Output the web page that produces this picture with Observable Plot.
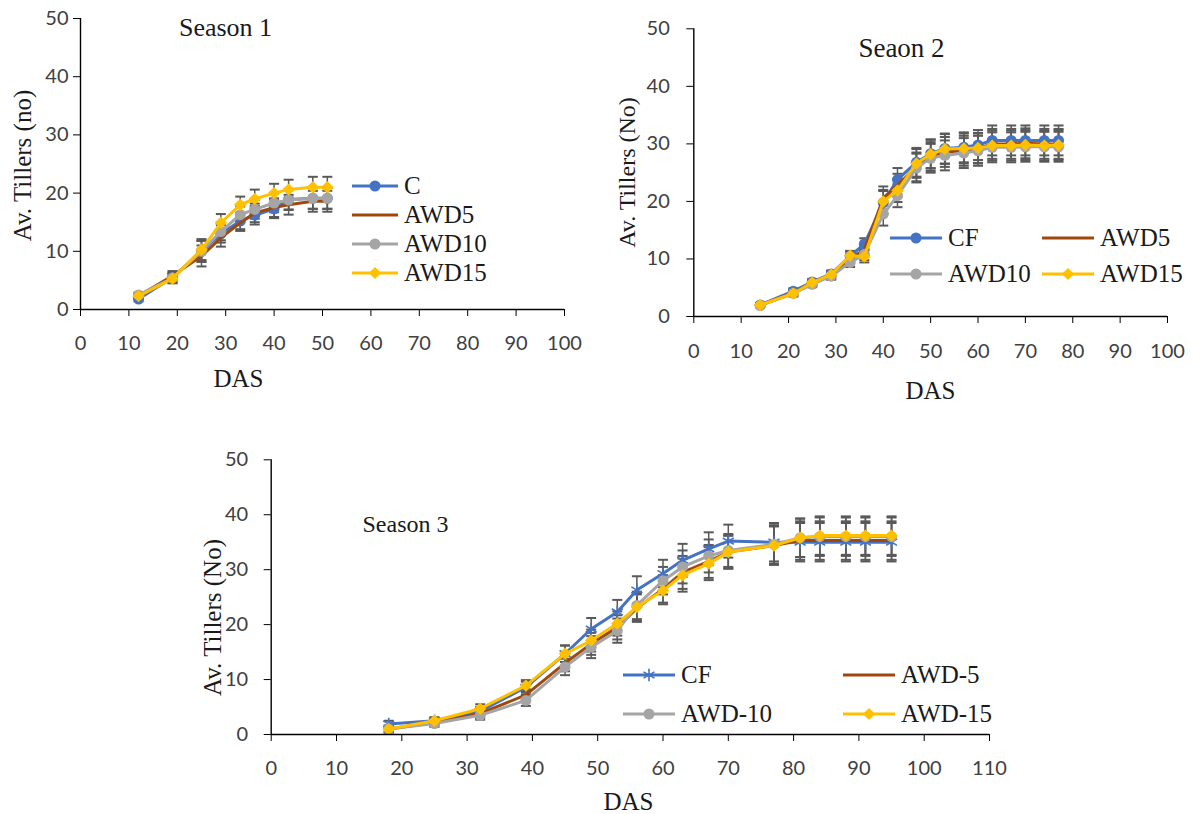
<!DOCTYPE html>
<html>
<head>
<meta charset="utf-8">
<script src="https://cdn.jsdelivr.net/npm/d3@7"></script>
<script src="https://cdn.jsdelivr.net/npm/@observablehq/plot@0.6"></script>
<style>
  body { margin: 0; background: #fff; }
  #fig { position: relative; width: 1193px; height: 814px; overflow: hidden; background: #fff; }
  .panel { position: absolute; }
  .item { position: absolute; display: flex; align-items: center; white-space: nowrap;
          font-family: "Liberation Serif", serif; font-size: 25px; color: #1a1a1a; height: 28px; }
  .item span { margin-left: 6px; }
</style>
</head>
<body>
<div id="fig"></div>
<script>
// ---- Season 1 ----
const s1Days   = [12, 19, 25, 29, 33, 36, 40, 43, 48, 51];
const s1C      = [1.8, 5.5, 10.0, 13.0, 15.2, 16.2, 17.3, 18.9, 19.1, 19.1];
const s1AWD5   = [2.3, 5.8, 9.2, 12.3, 14.9, 16.6, 17.5, 18.0, 18.6, 18.6];
const s1AWD10  = [2.5, 5.4, 10.0, 13.4, 16.3, 17.2, 18.3, 18.8, 19.1, 19.1];
const s1AWD15  = [2.3, 5.3, 10.3, 14.9, 18.0, 19.0, 20.0, 20.6, 21.0, 21.0];
const s1Err    = [0.4, 0.8, 1.8, 1.5, 1.4, 1.6, 1.6, 1.7, 1.8, 1.8];
const s1Names  = ["C", "AWD5", "AWD10", "AWD15"];

// ---- Season 2 ----
const s2Days   = [14, 21, 25, 29, 33, 36, 40, 43, 47, 50, 53, 57, 60, 63, 67, 70, 74, 77];
const s2CF     = [2.0, 4.4, 6.0, 7.4, 10.5, 12.6, 19.8, 23.8, 26.8, 28.3, 29.2, 29.4, 29.8, 30.6, 30.6, 30.6, 30.6, 30.6];
const s2AWD5   = [2.0, 4.1, 5.8, 7.1, 10.1, 11.6, 20.6, 22.8, 26.0, 27.8, 28.6, 28.8, 29.2, 30.0, 30.0, 30.1, 30.0, 30.0];
const s2AWD10  = [1.9, 4.0, 5.6, 7.0, 9.4, 10.8, 17.8, 21.0, 25.8, 27.5, 28.0, 28.4, 28.8, 29.4, 29.4, 29.5, 29.5, 29.5];
const s2AWD15  = [2.0, 4.0, 5.9, 7.3, 10.6, 10.4, 20.0, 21.9, 26.6, 28.2, 29.1, 29.2, 29.3, 29.7, 29.7, 29.8, 29.7, 29.8];
const s2Err    = [0.3, 0.5, 0.5, 0.6, 0.8, 1.0, 2.0, 2.0, 2.5, 2.5, 2.6, 2.6, 2.6, 2.6, 2.6, 2.6, 2.6, 2.6];
const s2Names  = ["CF", "AWD5", "AWD10", "AWD15"];

// ---- Season 3 ----
const s3Days   = [18, 25, 32, 39, 45, 49, 53, 56, 60, 63, 67, 70, 77, 81, 84, 88, 91, 95];
const s3CF     = [1.9, 2.5, 4.2, 8.6, 14.7, 19.2, 22.3, 26.3, 29.3, 31.7, 33.8, 35.2, 35.0, 35.0, 35.0, 35.0, 35.0, 35.0];
const s3AWD5   = [1.0, 2.2, 3.8, 7.2, 13.0, 16.5, 19.5, 23.0, 26.5, 29.5, 31.5, 33.2, 34.4, 35.3, 35.3, 35.3, 35.3, 35.3];
const s3AWD10  = [1.0, 2.0, 3.5, 6.2, 12.3, 15.9, 18.9, 23.5, 28.0, 30.5, 32.5, 33.5, 34.6, 35.8, 36.0, 36.0, 36.0, 36.0];
const s3AWD15  = [1.0, 2.5, 4.7, 8.9, 14.7, 17.1, 20.2, 23.2, 26.2, 29.0, 31.1, 33.2, 34.4, 35.8, 36.2, 36.2, 36.2, 36.2];
const s3Err    = [0.6, 0.6, 0.8, 1.0, 1.5, 2.0, 2.2, 2.5, 2.5, 3.0, 3.0, 3.0, 3.5, 3.5, 3.5, 3.5, 3.5, 3.5];
const s3Names  = ["CF", "AWD-5", "AWD-10", "AWD-15"];

// series styling (same order in every season)
const seriesColors = ["#4472C4", "#9E480E", "#A5A5A5", "#FFC000"];
const errColor = "#595959";
const tickColor = "#404040";
const tickFont = "Lato, 'Liberation Sans', sans-serif";
const serifFont = "'Liberation Serif', serif";

// horizontal cap drawn at a fixed pixel width
const capSymbol = { draw(ctx) { ctx.moveTo(-5, 0); ctx.lineTo(5, 0); } };

const fig = document.getElementById("fig");

function drawPanel(cfg) {
  const rows = cfg.names.flatMap((name, i) =>
    cfg.days.map((d, j) => ({ day: d, value: cfg.values[i][j], err: cfg.err[j], key: name })));
  const m = cfg.margin;
  const marks = [
    // error bars
    Plot.ruleX(rows, { x: "day", y1: d => d.value - d.err, y2: d => d.value + d.err, stroke: errColor, strokeWidth: 1.5 }),
    Plot.dot(rows, { x: "day", y: d => d.value + d.err, symbol: capSymbol, stroke: errColor, strokeWidth: 2, r: 4 }),
    Plot.dot(rows, { x: "day", y: d => d.value - d.err, symbol: capSymbol, stroke: errColor, strokeWidth: 2, r: 4 })
  ];
  cfg.names.forEach((name, i) => {
    const sub = rows.filter(d => d.key === name);
    marks.push(Plot.line(sub, { x: "day", y: "value", stroke: seriesColors[i], strokeWidth: 3 }));
    const sym = cfg.symbols[i];
    if (sym === "asterisk") {
      marks.push(Plot.dot(sub, { x: "day", y: "value", symbol: "asterisk", stroke: seriesColors[i], strokeWidth: 1.6, r: 6 }));
    } else if (sym) {
      marks.push(Plot.dot(sub, { x: "day", y: "value", symbol: sym, fill: seriesColors[i], stroke: "none", r: sym === "circle" ? 5.5 : 5.6 }));
    }
  });
  const label = (text, at, size, rotate = 0) =>
    Plot.text([text], { frameAnchor: "top-left", textAnchor: "middle", lineAnchor: "middle",
                        dx: at[0] - m.l, dy: at[1] - m.t, rotate,
                        fontFamily: serifFont, fontSize: size, fill: "#1a1a1a" });
  // axes
  marks.push(
    Plot.axisX({ ticks: d3.range(0, cfg.xMax + 1, 10), tickSize: 7, tickPadding: cfg.xPad, stroke: "#000",
                 fill: tickColor, fontFamily: tickFont, fontSize: 20, label: null }),
    Plot.axisY({ ticks: d3.range(0, 51, 10), tickSize: 7, tickPadding: cfg.yPad, stroke: "#000",
                 fill: tickColor, fontFamily: tickFont, fontSize: 20, label: null }),
    Plot.ruleX([0], { stroke: "#000", strokeWidth: 1.4 }),
    Plot.ruleY([0], { stroke: "#000", strokeWidth: 1.4 }),
    // titles
    label(cfg.title, cfg.titleAt, cfg.titleSize),
    label("DAS", cfg.xLabelAt, 25),
    label(cfg.yLabel, cfg.yLabelAt, cfg.yLabelSize, -90)
  );
  const chart = Plot.plot({
    width: cfg.width, height: cfg.height,
    marginLeft: m.l, marginRight: m.r, marginTop: m.t, marginBottom: m.b,
    x: { domain: [0, cfg.xMax] },
    y: { domain: [0, 50] },
    style: { background: "transparent", overflow: "visible", fontFamily: tickFont },
    marks
  });
  const holder = document.createElement("div");
  holder.className = "panel";
  holder.style.left = cfg.left + "px";
  holder.style.top = cfg.top + "px";
  holder.appendChild(chart);
  fig.appendChild(holder);

  // legend entries: line swatch with the series marker, then the name
  cfg.legend.forEach(([x, y, i]) => {
    const item = document.createElement("div");
    item.className = "item";
    item.style.left = x + "px";
    item.style.top = (y - 14) + "px";
    const L = cfg.legendLine;
    const svg = d3.create("svg").attr("width", L).attr("height", 28);
    svg.append("line").attr("x1", 0).attr("x2", L).attr("y1", 14).attr("y2", 14)
      .attr("stroke", seriesColors[i]).attr("stroke-width", 3);
    const sym = cfg.symbols[i];
    if (sym) {
      const type = { circle: d3.symbolCircle, diamond2: d3.symbolDiamond2, asterisk: d3.symbolAsterisk }[sym];
      const r = sym === "asterisk" ? 6 : 5.5;
      const p = svg.append("path").attr("transform", `translate(${L / 2},14)`)
        .attr("d", d3.symbol(type, Math.PI * r * r)());
      if (sym === "asterisk") p.attr("fill", "none").attr("stroke", seriesColors[i]).attr("stroke-width", 1.6);
      else p.attr("fill", seriesColors[i]);
    }
    item.appendChild(svg.node());
    const span = document.createElement("span");
    span.textContent = cfg.names[i];
    item.appendChild(span);
    fig.appendChild(item);
  });
}

drawPanel({
  left: 0, top: 0, width: 600, height: 400,
  margin: { l: 80, r: 36, t: 18, b: 91 }, xMax: 100, xPad: 19, yPad: 5,
  days: s1Days, values: [s1C, s1AWD5, s1AWD10, s1AWD15], err: s1Err, names: s1Names,
  symbols: ["circle", null, "circle", "diamond2"],
  title: "Season 1", titleAt: [225, 27], titleSize: 26,
  xLabelAt: [238, 378], yLabel: "Av. Tillers (no)", yLabelAt: [22, 165], yLabelSize: 25,
  legendLine: 46, legend: [[352, 186, 0], [352, 215, 1], [352, 244, 2], [352, 273, 3]]
});

drawPanel({
  left: 600, top: 0, width: 593, height: 410,
  margin: { l: 93.3, r: 26, t: 28.3, b: 94 }, xMax: 100, xPad: 20, yPad: 17,
  days: s2Days, values: [s2CF, s2AWD5, s2AWD10, s2AWD15], err: s2Err, names: s2Names,
  symbols: ["circle", null, "circle", "diamond2"],
  title: "Seaon 2", titleAt: [301, 48], titleSize: 27,
  xLabelAt: [330, 390], yLabel: "Av. Tillers (No)", yLabelAt: [27, 172], yLabelSize: 24,
  legendLine: 52, legend: [[890, 238, 0], [1042, 238, 1], [890, 274, 2], [1042, 274, 3]]
});

drawPanel({
  left: 180, top: 440, width: 840, height: 374,
  margin: { l: 90.7, r: 31, t: 19.3, b: 80 }, xMax: 110, xPad: 19, yPad: 16,
  days: s3Days, values: [s3CF, s3AWD5, s3AWD10, s3AWD15], err: s3Err, names: s3Names,
  symbols: ["asterisk", null, "circle", "diamond2"],
  title: "Season 3", titleAt: [225, 84], titleSize: 24,
  xLabelAt: [448, 361], yLabel: "Av. Tillers (No)", yLabelAt: [32, 177], yLabelSize: 25,
  legendLine: 52, legend: [[623, 675, 0], [843, 675, 1], [623, 714, 2], [843, 714, 3]]
});
</script>
</body>
</html>
